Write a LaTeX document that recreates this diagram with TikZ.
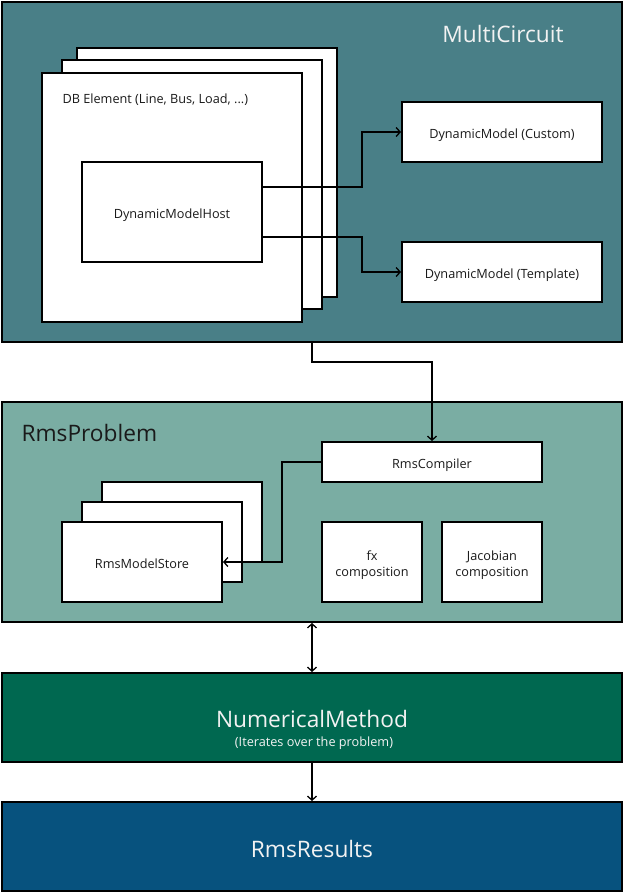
\documentclass[tikz,border=0pt]{standalone}
\usepackage{fontspec}
\setmainfont{Open Sans}
\usetikzlibrary{arrows.meta}
\definecolor{mcfill}{HTML}{497F87}
\definecolor{rpfill}{HTML}{7AADA3}
\definecolor{nmfill}{HTML}{006850}
\definecolor{rrfill}{HTML}{07527E}
\definecolor{lighttext}{HTML}{F2F2F2}
\definecolor{darktext}{HTML}{1A1A1A}
\newcommand{\dn}[1]{\raisebox{-2.8pt}[\height][\depth]{\begin{tabular}{@{}c@{}}#1\end{tabular}}}
\tikzset{
  panel/.style={draw=black, line width=2pt},
  wbox/.style={draw=black, fill=white, line width=2pt},
  conn/.style={draw=black, line width=1.5pt, -{Straight Barb[length=4pt,width=9pt,line width=1.3pt]}},
  conn2/.style={draw=black, line width=1.5pt, {Straight Barb[length=4pt,width=9pt,line width=1.3pt]}-{Straight Barb[length=4pt,width=9pt,line width=1.3pt]}},
  lbl/.style={font=\fontsize{12.7}{16}\selectfont, text=darktext, align=center},
  big/.style={font=\fontsize{22.7}{27}\selectfont},
}
\begin{document}
\begin{tikzpicture}[x=1pt, y=-1pt]
\useasboundingbox (0,0) rectangle (623,892);
% MultiCircuit
\path[panel, fill=mcfill] (2,2) rectangle (622,342);
\node[big, text=lighttext] (mctitle) at (503,34) {MultiCircuit};
\path[wbox] (77,48) rectangle (337,297);
\path[wbox] (62,60) rectangle (322,309);
\path[wbox] (42,73) rectangle (302,322);
\node[lbl, anchor=west] (dblbl) at (59,100) {DB Element (Line, Bus, Load, ...)};
\node[wbox, lbl, minimum width=180pt, minimum height=100pt] (host) at (172,212) {\dn{DynamicModelHost}};
\node[wbox, lbl, minimum width=200pt, minimum height=60pt] (custom) at (502,132) {\dn{DynamicModel (Custom)}};
\node[wbox, lbl, minimum width=200pt, minimum height=60pt] (templ) at (502,272) {\dn{DynamicModel (Template)}};
\coordinate (h1) at (263,187);
\coordinate (h2) at (263,237);
\draw[conn] (h1) -| (362,132) -- (custom.west);
\draw[conn] (h2) -| (362,272) -- (templ.west);
% RmsProblem
\path[panel, fill=rpfill] (2,402) rectangle (622,622);
\node[big, text=darktext, anchor=west] (rptitle) at (18,433) {RmsProblem};
\node[wbox, lbl, minimum width=220pt, minimum height=40pt] (compiler) at (432,462) {\dn{RmsCompiler}};
\path[wbox] (102,482) rectangle (262,562);
\path[wbox] (82,502) rectangle (242,582);
\node[wbox, lbl, minimum width=160pt, minimum height=80pt] (store) at (142,562) {\dn{RmsModelStore}};
\node[wbox, lbl, minimum width=100pt, minimum height=80pt] (fx) at (372,562) {\dn{fx\\composition}};
\node[wbox, lbl, minimum width=100pt, minimum height=80pt] (jac) at (492,562) {\dn{Jacobian\\composition}};
\draw[conn] (compiler.west) -| (282,562) -- (store.east);
\coordinate (mcb) at (312,343);
\draw[conn] (mcb) -- (312,362) -| (compiler.north);
% NumericalMethod
\node[panel, fill=nmfill, minimum width=620pt, minimum height=89pt, inner sep=0pt] (nm) at (312,717.5) {};
\node[big, text=lighttext] (nmtitle) at (312,719) {NumericalMethod};
\node[font=\fontsize{12.7}{15}\selectfont, text=lighttext] (nmsub) at (314,743) {(Iterates over the problem)};
% RmsResults
\node[panel, fill=rrfill, minimum width=620pt, minimum height=89pt, inner sep=0pt] (rr) at (312,846.5) {};
\node[big, text=lighttext] (rrtitle) at (312,849) {RmsResults};
\coordinate (rpb) at (312,623);
\draw[conn2] (rpb) -- (nm.north);
\draw[conn] (nm.south) -- (rr.north);
\end{tikzpicture}
\end{document}
